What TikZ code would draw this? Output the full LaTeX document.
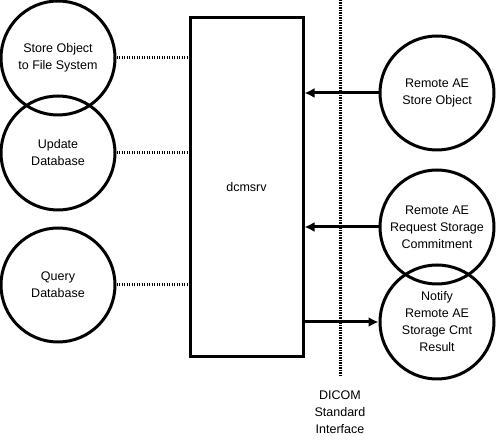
\documentclass[tikz,border=0pt]{standalone}
\usepackage{fontspec}
\setmainfont{Liberation Sans}
\usetikzlibrary{arrows.meta}

\begin{document}
\begin{tikzpicture}[x=1pt,y=-1pt]
    \tikzset{proc/.style={circle,draw,line width=3,minimum size=114,inner sep=0,align=center,font=\fontsize{12.5}{17}\selectfont},
        dots/.style={line width=3,dash pattern=on 1.3pt off 1.2pt},
        flow/.style={line width=3,-{Latex[length=10,width=10]}}}
    \useasboundingbox (0,0) rectangle (504,443);

    \node[draw,line width=3,minimum width=113,minimum height=339,font=\fontsize{12.5}{17}\selectfont] (srv) at (246.5,187.5) {dcmsrv};

    \node[proc] (store) at (58,58) {Store Object\\to File System};
    \node[proc] (update) at (58,153) {Update\\Database};
    \node[proc] (query) at (58,285) {Query\\Database};

    \node[proc] (rstore) at (437,93) {Remote AE\\Store Object};
    \node[proc] (rcommit) at (437,227) {Remote AE\\Request Storage\\Commitment};
    \node[proc] (notify) at (437,322) {Notify\\Remote AE\\Storage Cmt\\Result};

    \coordinate (ifacetop) at (340,0);
    \coordinate (ifacebot) at (340,376);
    \draw[dots] (ifacetop) -- (ifacebot);
    \node[align=center,font=\fontsize{12.5}{17}\selectfont] (iface) at (340,412) {DICOM\\Standard\\Interface};

    \draw[dots] (store.east) -- (store.east -| srv.west);
    \draw[dots] (update.east) -- (update.east -| srv.west);
    \draw[dots] (query.east) -- (query.east -| srv.west);

    \draw[flow] (rstore.west) -- (rstore.west -| srv.east);
    \draw[flow] (rcommit.west) -- (rcommit.west -| srv.east);
    \draw[flow] (notify.west -| srv.east) -- (notify.west);
\end{tikzpicture}
\end{document}
